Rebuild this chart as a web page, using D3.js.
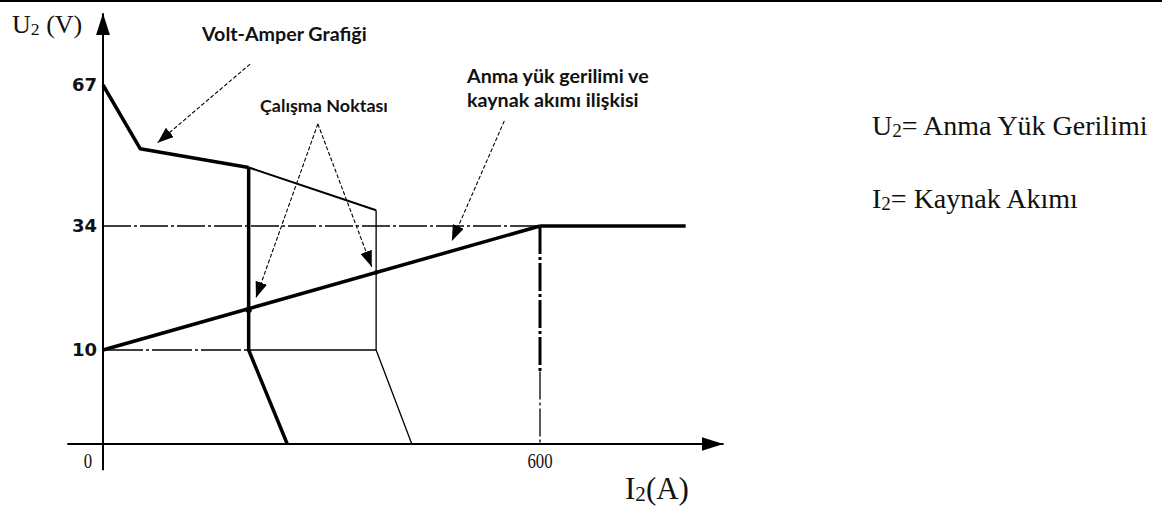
<!DOCTYPE html>
<html><head><meta charset="utf-8">
<script src="https://cdn.jsdelivr.net/npm/d3@7"></script>
<style>
html,body{margin:0;padding:0;background:#fff;}
svg{display:block;}
</style></head>
<body>
<svg id="chart" width="1162" height="510"></svg>
<script>
// ---- data (I2 in A, U2 in V) ----
const yTickValues = [10, 34, 67];
const yTickLabels = ["10", "34", "67"];
const xTickValues = [0, 600];
const xTickLabels = ["0", "600"];

const voltAmperBold = [[0, 67], [51, 52.1], [200, 47.7]];
const voltAmperThin = [[200, 47.7], [375, 37.7]];
const workBold = [[200, 47.7], [200, 10], [253, 0]];
const workThin = [[375, 37.7], [375, 10], [424, 0]];
const loadLine = [[0, 10], [600, 34]];
const loadFlat = [[600, 34], [800, 34]];
const ref34 = [[0, 34], [600, 34]];
const ref10Dash = [[0, 10], [200, 10]];
const ref10Solid = [[200, 10], [375, 10]];
const v600Thick = [[600, 34], [600, 7.7]];
const v600Thin = [[600, 7.7], [600, 0]];
const workPoints = [[200, 17.8, 3.2], [375, 25.0, 2.2]];

const annotations = [
  { lines: ["Volt-Amper Grafiği"], arrows: [[[202, 71.9], [75, 53.5]]], textAt: [202, 41], width: 166 },
  { lines: ["Çalışma Noktası"], arrows: [[[295, 57.9], [210, 20.1]], [[295, 57.9], [369, 26.1]]], textAt: [260, 112], width: 128 },
  { lines: ["Anma yük gerilimi ve", "kaynak akımı ilişkisi"], arrows: [[[551, 58.6], [479, 31.1]]], textAt: [467, 83], width: 183 }
];
const legendLines = [
  { main: "U", sub: "2", rest: "= Anma Yük Gerilimi" },
  { main: "I", sub: "2", rest: "= Kaynak Akımı" }
];

// ---- scales ----
const x = d3.scaleLinear().domain([0, 600]).range([103, 540]);
const y = d3.scaleLinear().domain([0, 10, 34, 67]).range([444, 350, 226, 85]);

const svg = d3.select("#chart");
const defs = svg.append("defs");
defs.append("marker").attr("id", "ah").attr("markerUnits", "userSpaceOnUse")
  .attr("viewBox", "0 0 16 12").attr("markerWidth", 16).attr("markerHeight", 12)
  .attr("refX", 16).attr("refY", 6).attr("orient", "auto")
  .append("path").attr("d", "M0,0 L16,6 L0,12 Z").attr("fill", "#000");
defs.append("marker").attr("id", "axh").attr("markerUnits", "userSpaceOnUse")
  .attr("viewBox", "0 0 22 14").attr("markerWidth", 22).attr("markerHeight", 14)
  .attr("refX", 22).attr("refY", 7).attr("orient", "auto")
  .append("path").attr("d", "M0,0 L22,7 L0,14 Z").attr("fill", "#000");

// top border
svg.append("line").attr("x1", 0).attr("x2", 1162).attr("y1", 1).attr("y2", 1)
  .attr("stroke", "#000").attr("stroke-width", 2);

const line = d3.line().x(d => x(d[0])).y(d => y(d[1]));
function path(data, w, dash) {
  const p = svg.append("path").attr("d", line(data)).attr("fill", "none")
    .attr("stroke", "#000").attr("stroke-width", w)
    .attr("stroke-linejoin", "round");
  if (dash) p.attr("stroke-dasharray", dash);
  return p;
}

// axes
path([[0, -2.8], [0, 83.8]], 2).attr("marker-end", "url(#axh)");
path([[-49, 0], [852, 0]], 2).attr("marker-end", "url(#axh)");

// reference lines
const dashDot = "28,3,3,3";
path(ref34, 1.3, dashDot);
path(ref10Dash, 1.3, "40,3,3,3");
path(ref10Solid, 1.3);
path(v600Thick, 3, dashDot);
path(v600Thin, 1.3, dashDot);

// curves
path(voltAmperBold, 3.5);
path(voltAmperThin, 2);
path(workBold, 3.5);
path(workThin, 1.3);
path(loadLine, 3.5);
path(loadFlat, 3.5);

svg.selectAll("circle.wp").data(workPoints).enter().append("circle")
  .attr("cx", d => x(d[0])).attr("cy", d => y(d[1])).attr("r", d => d[2]).attr("fill", "#000");

function fit(t, target, base) {
  const w = t.node().getBBox().width;
  const s = base * target / w;
  t.attr("font-size", s);
  return s;
}

// annotation arrows + text
annotations.forEach(a => {
  a.arrows.forEach(ar => {
    path(ar, 1.1, "4,2").attr("marker-end", "url(#ah)");
  });
  const t = svg.append("text").attr("x", a.textAt[0]).attr("y", a.textAt[1])
    .attr("font-family", "Lato, 'Open Sans', sans-serif").attr("font-weight", "bold")
    .attr("font-size", 17).attr("fill", "#111");
  a.lines.forEach((l, i) => {
    t.append("tspan").attr("x", a.textAt[0]).attr("dy", i === 0 ? 0 : 24).text(l);
  });
  fit(t, a.width, 17);
});

// y tick labels
svg.selectAll("text.yt").data(yTickValues).enter().append("text")
  .attr("x", 97).attr("y", d => y(d)).attr("dy", "0.36em")
  .attr("text-anchor", "end")
  .attr("font-family", "'DejaVu Sans', sans-serif").attr("font-weight", "bold")
  .attr("font-size", 18).attr("fill", "#111")
  .text((d, i) => yTickLabels[i]);

// x tick labels
svg.selectAll("text.xt").data(xTickValues).enter().append("text")
  .attr("transform", (d, i) => `translate(${i === 0 ? x(d) - 15 : x(d)},468) scale(0.8,1)`)
  .attr("text-anchor", "middle")
  .attr("font-family", "'Liberation Serif', serif")
  .attr("font-size", 21).attr("fill", "#111")
  .text((d, i) => xTickLabels[i]);

// axis titles
function subText(xp, yp, size, main, sub, rest) {
  const t = svg.append("text").attr("x", xp).attr("y", yp)
    .attr("font-family", "'Liberation Serif', 'Times New Roman', serif")
    .attr("font-size", size).attr("fill", "#111");
  t.append("tspan").text(main);
  t.append("tspan").attr("font-size", size * 0.68).attr("dy", size * 0.08).text(sub);
  t.append("tspan").attr("dy", -size * 0.08).text(rest);
  return t;
}
subText(12, 33, 26, "U", "2", " (V)");
subText(625, 499, 31, "I", "2", "(A)");

// legend on the right
legendLines.forEach((l, i) => {
  subText(872, 135 + i * 73, 28, l.main, l.sub, l.rest);
});
</script>
</body></html>
